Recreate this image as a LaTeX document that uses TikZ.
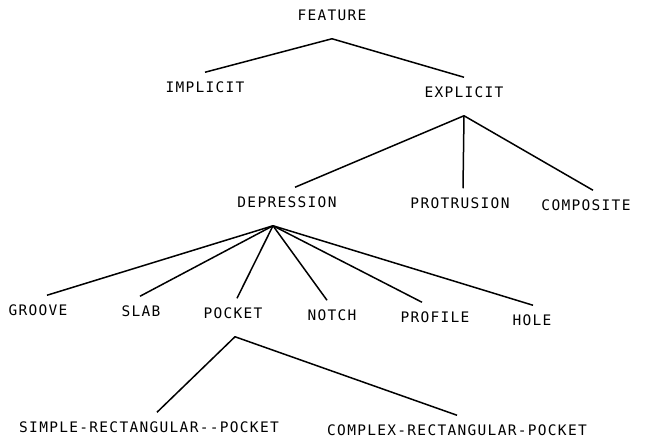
\documentclass[tikz,border=0pt]{standalone}
\usepackage{fontspec}
\usepackage{tikz}

\newfontfamily\plotfont[LetterSpace=9]{DejaVu Sans Mono}

\begin{document}
\begin{tikzpicture}[x=1pt,y=-1pt]
            \tikzstyle{term}=[font={\plotfont\fontsize{14.5}{17}\selectfont}, text height=10.5pt, text depth=0pt, inner xsep=0pt, inner ysep=9.5pt, outer sep=0pt]
            \tikzstyle{branch}=[line width=1.5pt, line join=round]
            \useasboundingbox (0,0) rectangle (649,442);
            % top two levels
            \node[term] (feature) at (332,15) {FEATURE};
            \node[term] (implicit) at (205,87) {IMPLICIT};
            \node[term] (explicit) at (464,92) {EXPLICIT};
            \node[term] (depression) at (287,202) {DEPRESSION};
            \node[term] (protrusion) at (460,203) {PROTRUSION};
            \node[term] (composite) at (586,205) {COMPOSITE};
            % kinds of depression
            \node[term] (groove) at (38,310) {GROOVE};
            \node[term] (slab) at (141,311) {SLAB};
            \node[term] (pocket) at (233,313) {POCKET};
            \node[term] (notch) at (332,315) {NOTCH};
            \node[term] (profile) at (435,317) {PROFILE};
            \node[term] (hole) at (532,320) {HOLE};
            % kinds of pocket
            \node[term] (simple) at (149,427) {SIMPLE-RECTANGULAR-{}-POCKET};
            \node[term] (complex) at (457,430) {COMPLEX-RECTANGULAR-POCKET};
            % fork points under the parents
            \coordinate (feature-fork) at ([yshift=-9pt]feature.south);
            \coordinate (explicit-fork) at ([yshift=-9pt]explicit.south);
            \coordinate (depression-fork) at ([xshift=-14pt,yshift=-9pt]depression.south);
            \coordinate (pocket-fork) at ([xshift=2pt,yshift=-9pt]pocket.south);
            \draw[branch] (implicit.north) -- (feature-fork) -- (explicit.north);
            \draw[branch] ([xshift=8pt]depression.north) -- (explicit-fork) -- ([xshift=7pt]composite.north);
            \draw[branch] (explicit-fork) -- ([xshift=3pt]protrusion.north);
            \foreach \kid/\dx in {groove/9, slab/-1, pocket/4, notch/-5, profile/-13, hole/1}
                \draw[branch] (depression-fork) -- ([xshift=\dx pt]\kid.north);
            \draw[branch] ([xshift=8pt]simple.north) -- (pocket-fork) -- (complex.north);
        \end{tikzpicture}
\end{document}
